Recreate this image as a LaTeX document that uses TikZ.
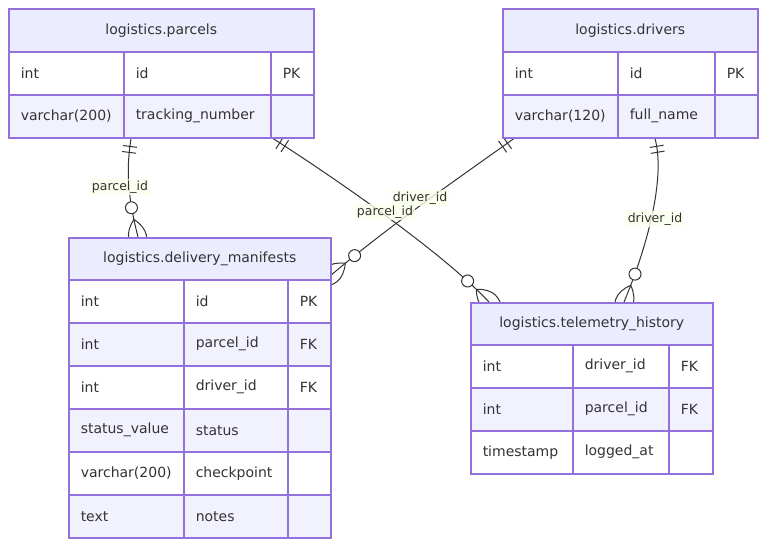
\documentclass[tikz,border=0pt]{standalone}
\usepackage{fontspec}
\setmainfont{DejaVu Sans}
\usepackage{xcolor}
\usetikzlibrary{calc, decorations.markings}

\definecolor{erline}{HTML}{9370DB}
\definecolor{headfill}{HTML}{ECECFF}
\definecolor{rowalt}{HTML}{F2F2FF}
\definecolor{ertext}{HTML}{333333}
\definecolor{labelbg}{HTML}{F9FFEC}

\pgfdeclarelayer{background}
\pgfsetlayers{background,main}

\begin{document}
\begin{tikzpicture}[x=1pt, y=-1pt,
    font=\fontsize{14pt}{17pt}\selectfont, text=ertext,
    erhead/.style={rectangle, draw=erline, line width=1.5pt, fill=headfill, anchor=north west,
        minimum width=#1, minimum height=43pt, inner sep=0pt},
    ercell/.style={rectangle, draw=erline, line width=1.5pt, anchor=north west, text width=#1,
        inner xsep=12pt, inner ysep=0pt, minimum height=43pt, align=left},
    erlink/.style={draw=ertext, line width=1pt, postaction={decorate, decoration={markings,
        mark=at position 8pt with {\draw[ertext, line width=1pt] (0,-7pt) -- (0,7pt) (6pt,-7pt) -- (6pt,7pt);},
        mark=at position -18pt with {\draw[ertext, line width=1pt] (0,0) .. controls (12pt,12pt) and (24pt,12pt) .. (36pt,0)
            .. controls (24pt,-12pt) and (12pt,-12pt) .. (0,0);
            \draw[ertext, line width=1pt, fill=white] (-12pt,0) circle[radius=6pt];}}}},
    rellabel/.style={fill=labelbg, fill opacity=0.8, text opacity=1, inner sep=2pt,
        font=\fontsize{12.5pt}{15pt}\selectfont}]

    \useasboundingbox (0,0) rectangle (765,544);

    % Parcels entity
    \node[erhead=305pt] (parcels) at (8,8) {logistics.parcels};
    \foreach \ty/\nm/\ky/\bg [count=\i] in {int/id/PK/white, varchar(200)/tracking\_number//rowalt} {
        \node[ercell=91pt, fill=\bg] (parcels-\i-1) at (8, {51+(\i-1)*43}) {\mbox{\ty}};
        \node[ercell=123pt, fill=\bg] (parcels-\i-2) at (123, {51+(\i-1)*43}) {\mbox{\nm}};
        \node[ercell=19pt, fill=\bg] (parcels-\i-3) at (270, {51+(\i-1)*43}) {\mbox{\ky}};
    }

    % Drivers entity
    \node[erhead=255pt] (drivers) at (502,8) {logistics.drivers};
    \foreach \ty/\nm/\ky/\bg [count=\i] in {int/id/PK/white, varchar(120)/full\_name//rowalt} {
        \node[ercell=91pt, fill=\bg] (drivers-\i-1) at (502, {51+(\i-1)*43}) {\mbox{\ty}};
        \node[ercell=73pt, fill=\bg] (drivers-\i-2) at (617, {51+(\i-1)*43}) {\mbox{\nm}};
        \node[ercell=19pt, fill=\bg] (drivers-\i-3) at (714, {51+(\i-1)*43}) {\mbox{\ky}};
    }

    % Delivery manifests entity
    \node[erhead=262pt, minimum height=42pt] (manifests) at (68,237) {logistics.delivery\_manifests};
    \foreach \ty/\nm/\ky/\bg [count=\i] in {int/id/PK/white, int/parcel\_id/FK/rowalt, int/driver\_id/FK/white,
            status\_value/status//rowalt, varchar(200)/checkpoint//white, text/notes//rowalt} {
        \node[ercell=91pt, fill=\bg] (manifests-\i-1) at (68, {279+(\i-1)*43}) {\mbox{\ty}};
        \node[ercell=80pt, fill=\bg] (manifests-\i-2) at (183, {279+(\i-1)*43}) {\mbox{\nm}};
        \node[ercell=19pt, fill=\bg] (manifests-\i-3) at (287, {279+(\i-1)*43}) {\mbox{\ky}};
    }

    % Telemetry history entity
    \node[erhead=242pt, minimum height=42pt] (telemetry) at (470,302) {logistics.telemetry\_history};
    \foreach \ty/\nm/\ky/\bg [count=\i] in {int/driver\_id/FK/white, int/parcel\_id/FK/rowalt, timestamp/logged\_at//white} {
        \node[ercell=78pt, fill=\bg] (telemetry-\i-1) at (470, {344+(\i-1)*43}) {\mbox{\ty}};
        \node[ercell=72pt, fill=\bg] (telemetry-\i-2) at (572, {344+(\i-1)*43}) {\mbox{\nm}};
        \node[ercell=20pt, fill=\bg] (telemetry-\i-3) at (668, {344+(\i-1)*43}) {\mbox{\ky}};
    }

    \begin{pgfonlayer}{background}
        % Relationships
        \draw[erlink] ([xshift=8pt]parcels-2-2.south west) .. controls (127,165) and (126,190) .. ([xshift=70pt]manifests.north west);
        \draw[erlink] ([xshift=3pt]parcels-2-3.south west) .. controls (330,175) and (440,250) .. ([xshift=19pt]telemetry.north west);
        \draw[erlink] ([xshift=12pt]drivers-2-1.south west) .. controls (470,170) and (390,225) .. ([yshift=-16pt]manifests.east);
        \draw[erlink] ([xshift=38pt]drivers-2-2.south west) .. controls (665,175) and (650,240) .. ([xshift=154pt]telemetry.north west);

        % Relationship labels
        \node[rellabel] (parcelidA) at (120,187) {parcel\_id};
        \node[rellabel] (driveridA) at (420,198) {driver\_id};
        \node[rellabel] (parcelidB) at (385,212) {parcel\_id};
        \node[rellabel] (driveridB) at (655,219) {driver\_id};
    \end{pgfonlayer}
\end{tikzpicture}
\end{document}
